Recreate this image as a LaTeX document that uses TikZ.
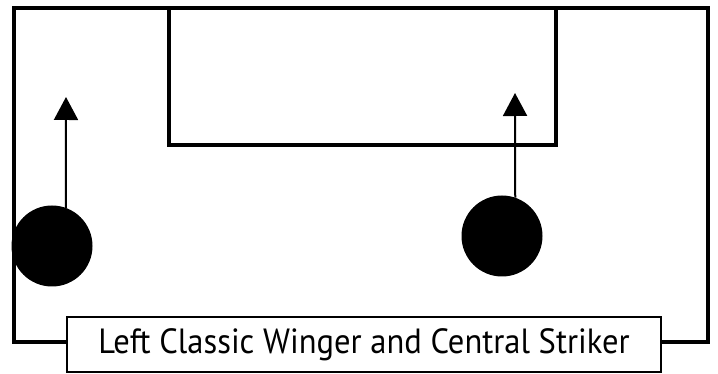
\documentclass[tikz,border=0pt]{standalone}
\usepackage{fontspec}
\setmainfont[FakeStretch=0.93]{PT Sans}
\usetikzlibrary{arrows.meta}
\begin{document}
\begin{tikzpicture}[x=1pt,y=-1pt,
  thick line/.style={line width=4pt},
  player/.style={circle,fill=black,minimum size=81pt,inner sep=0pt},
  run/.style={line width=2pt,-{Triangle[length=23pt,width=24pt]}},
  caption/.style={draw,line width=2pt,fill=white,minimum width=594pt,minimum height=55pt,inner sep=0pt,font=\fontsize{35}{35}\selectfont}]
\useasboundingbox (0,0) rectangle (718,374);
\fill[white] (0,0) rectangle (718,374);
% pitch
\draw[thick line] (14,8) rectangle (708,342);
% penalty box
\draw[thick line] (169,8) rectangle (556,145);
% players
\node[player] (lw) at (52,246) {};
\node[player] (cs) at (502,236) {};
\coordinate (t1) at (66,97);
\coordinate (t2) at (515,93);
\draw[run] (lw.70) -- (t1);
\draw[run] (cs.71) -- (t2);
% caption
\node[caption] (cap) at (364,344.5) {Left Classic Winger and Central Striker};
\end{tikzpicture}
\end{document}
